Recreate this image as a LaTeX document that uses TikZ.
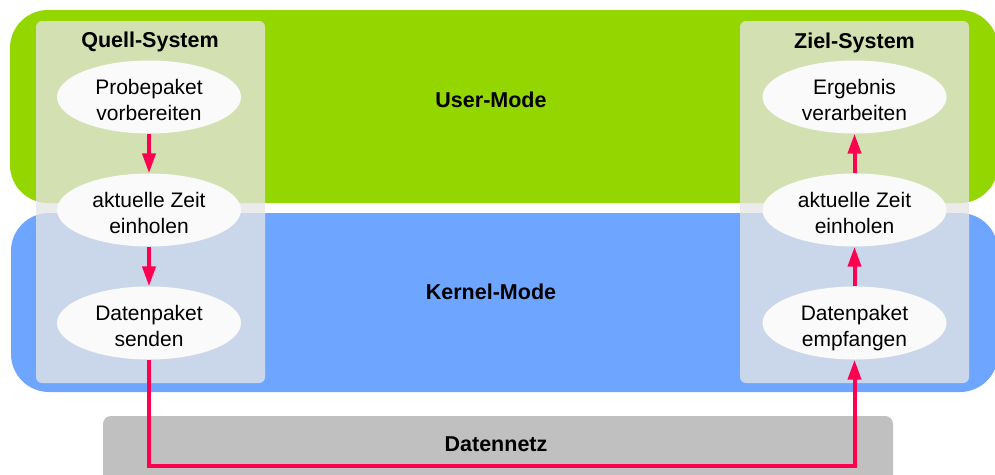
\documentclass[tikz,border=0pt]{standalone}
\usepackage{fontspec}
\setmainfont{Liberation Sans}
\usetikzlibrary{arrows.meta,shapes.geometric}
\definecolor{usergreen}{RGB}{148,215,0}
\definecolor{kernelblue}{RGB}{110,166,255}
\definecolor{netgray}{RGB}{192,192,192}
\definecolor{panelgray}{RGB}{229,229,229}
\definecolor{ellfill}{RGB}{250,250,251}
\definecolor{flowred}{RGB}{255,0,80}
% two centred lines, set slightly low inside the oval
\newcommand{\steptext}[2]{\raisebox{-10.5pt}[0pt][0pt]{\begin{tabular}{@{}c@{}}#1\\#2\end{tabular}}}
\tikzset{
  band/.style={rounded corners=38pt},
  panel/.style={fill=panelgray, fill opacity=0.78, rounded corners=6pt},
  stepell/.style={ellipse, fill=ellfill, minimum width=184pt, minimum height=73pt,
    inner sep=0pt, font=\fontsize{21}{26}\selectfont},
  title/.style={font=\bfseries\fontsize{21.5}{26}\selectfont, inner sep=0pt},
  flow/.style={draw=flowred, line width=4pt, -{Triangle[width=13pt,length=20pt]}},
}
\begin{document}
\begin{tikzpicture}[x=1pt,y=-1pt]
  \useasboundingbox (0,0) rectangle (995,474);
  \begin{scope}
    \clip (0,0) rectangle (995,474);
    % mode bands
    \fill[usergreen, band] (10,10) rectangle (998,203);
    \fill[kernelblue, band] (11,213) rectangle (998,392);
    % network bar
    \fill[netgray, rounded corners=8pt] (103,416) rectangle (893,490);
  \end{scope}
  \node[title] (user) at (491,100) {User-Mode};
  \node[title] (kernel) at (491,292) {Kernel-Mode};
  \node[title] (net) at (496,444) {Datennetz};
  % system panels
  \fill[panel] (36,21) rectangle (265,383);
  \fill[panel] (740,21) rectangle (969,383);
  \node[title] (src) at (150,42) {Quell-System};
  \node[title] (dst) at (854.5,43) {Ziel-System};
  % steps
  \node[stepell] (s1) at (149,97) {\steptext{Probepaket}{vorbereiten}};
  \node[stepell] (s2) at (149,210) {\steptext{aktuelle Zeit}{einholen}};
  \node[stepell] (s3) at (149,323) {\steptext{Datenpaket}{senden}};
  \node[stepell] (d1) at (854.5,97) {\steptext{Ergebnis}{verarbeiten}};
  \node[stepell] (d2) at (854.5,210) {\steptext{aktuelle Zeit}{einholen}};
  \node[stepell] (d3) at (854.5,323) {\steptext{Datenpaket}{empfangen}};
  % flow
  \coordinate (nl) at (149,466);
  \coordinate (nr) at (854.5,466);
  \draw[flow] (s1) -- (s2);
  \draw[flow] (s2) -- (s3);
  \draw[flow] (d3) -- (d2);
  \draw[flow] (d2) -- (d1);
  \draw[flow] (s3.south) -- (nl) -- (nr) -- (d3.south);
\end{tikzpicture}
\end{document}
